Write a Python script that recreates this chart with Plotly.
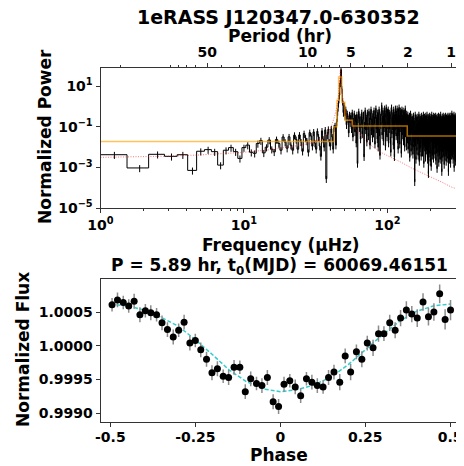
import numpy as np
import plotly.graph_objects as go

# the page body keeps its default 8px margin, so the figure is 8px smaller and
# every pixel position below is given in window coordinates and shifted by OFF
OFF = 8
W, H = 464 - OFF, 466 - OFF
FREQ_STEP = 0.625          # periodogram spacing in uHz
HR_PER_UHZ = 1e6 / 3600.0  # period (hr) = HR_PER_UHZ / frequency (uHz)

# ---- top panel: periodogram, log10 of normalized power, one value per frequency bin ----
logp_low = [-2.4, -2.37, -3.02, -2.35, -2.45, -2.37, -3.14, -2.2, -2.12, -2.22,
            -2.88, -2.15, -2.02, -2.22, -2.55, -2.02, -1.9, -2.25, -2.3, -1.82,
            -1.68, -2.28, -2.0, -1.65, -2.1]
logp_rise = [-2.23, -1.62, -1.82, -2.15, -1.5, -1.75, -2.05, -1.49, -1.9, -2.15,
             -1.41, -1.62, -2.1, -1.4, -1.74, -2.2, -1.33, -1.55, -1.7, -2.25,
             -1.28, -1.45, -1.95, -1.25, -1.8, -2.1, -1.22, -1.5, -1.95, -2.45,
             -1.2, -1.6, -2.0, -1.15, -3.55, -1.4, -1.12, -1.75, -1.95, -1.1,
             -1.5, -2.1, -1.05]
logp_peak = [-0.95, -1.9, -0.75, -0.25, 0.15, 0.55, 1.15, 1.8, 0.85, 0.25,
             -0.3, 0.05, -0.45, -0.15, -0.9, -0.35, -0.6, -1.3, -0.4, -0.8]
logp_mid = [-0.45, -1.1, -0.3, -1.5, -0.7, -0.35, -1.25, -0.55, -1.8, -0.4,
            -2.8, -0.6, -0.25, -1.05, -0.5, -1.6, -0.85, -0.3, -1.35, -0.65,
            -0.4, -2.47, -0.9, -0.2, -1.15, -0.55, -1.75, -0.3, -0.95, -1.45,
            -0.25, -0.7, -1.9, -0.45, -0.15, -1.2, -0.6, -1.55, -0.35,
            -1.3, -0.2, -0.65, -1.85, -0.4, -0.1, -1.1, -0.55, -1.6, -0.3,
            -2.0, -0.45, -0.15, -1.25, -2.4, -0.5, -0.9, -0.25, 0.05,
            -1.4, -0.6, -0.2, -1.7, -0.45, -1.05, -0.1, -0.75, -1.95, -0.35,
            -0.05, -1.2, -1.5, -0.25, -0.9, -0.15, -1.8, -0.5, -0.3,
            -1.1, -0.4, -1.65, -2.25, -0.2, -0.05, -1.35, -0.55, -0.95, -0.3,
            -1.9, -0.15, -0.8, -2.47, -0.4, -1.15, -0.1, -0.65, -1.45,
            -0.35, -0.9, -0.1, -1.6, -0.5, -2.1, -0.25, -1.25, -0.05, -0.6,
            -1.85, -0.4, -0.2, -1.05, -0.7, -2.3, -0.3, -0.15, -1.4,
            -0.55, -0.9, -0.2, -1.7, -0.45, -1.1, -0.3, -2.0, -0.65, -0.1,
            -1.3, -0.5, -0.85, -1.95, -0.35, -0.6]
logp_high = [-0.75, -1.6, -0.4, -2.1, -1.05, -0.55, -1.85, -1.3, -0.45, -2.5,
             -0.9, -1.45, -0.35, -1.7, -2.2, -0.8, -1.15, -0.5, -1.95, -1.25,
             -0.6, -2.35, -1.0, -0.45, -1.55, -2.0, -0.7, -1.3, -3.7, -0.85,
             -0.4, -1.75, -1.1, -2.6, -0.55, -1.4, -0.95, -2.15, -0.5, -1.65,
             -1.2, -0.65, -2.4, -0.9, -1.5, -0.4, -1.85, -2.7, -0.75, -1.05,
             -0.5, -2.05, -1.35, -0.6, -1.8, -2.45, -0.85, -0.45, -1.6, -1.15,
             -0.55, -2.25, -1.0, -0.7, -1.9, -0.4, -1.45, -2.8, -0.8, -1.25,
             -0.5, -2.0, -1.7, -0.65, -1.1, -2.5, -0.45, -1.55, -0.9, -2.15,
             -0.6, -1.35, -0.4, -1.95, -1.05, -2.6, -0.75, -1.5, -0.5, -3.3,
             -1.2, -0.55, -1.8, -2.3, -0.85, -0.45, -1.6, -1.0, -2.7, -0.7,
             -1.4, -0.5, -2.1, -2.95, -0.9, -1.25, -0.4, -1.75, -0.65, -2.4,
             -1.1, -0.55, -1.9, -1.45, -0.8, -2.55, -0.45, -1.3, -2.05, -0.7,
             -1.6, -0.5, -1.0, -2.35, -0.6, -1.85, -1.2, -0.45, -2.65, -0.95,
             -1.5, -0.55, -2.1, -0.8, -1.35, -3.05, -0.5, -1.7, -1.05, -0.65,
             -2.25, -0.9, -1.45, -0.45, -1.95, -2.75, -0.7, -1.2, -0.5, -1.65,
             -2.4, -0.85, -1.1, -0.55, -2.0, -1.5, -0.4, -2.6, -0.95, -1.3,
             -0.6, -1.8, -2.3, -3.2, -0.75, -1.25, -0.5, -2.05, -1.55, -0.65,
             -2.5, -1.0, -0.45, -1.7, -2.2, -0.8, -1.4, -0.55, -2.85, -1.15,
             -0.7, -1.9, -0.5, -1.35, -2.45, -0.85, -1.6, -0.45, -2.1, -1.05,
             -0.6, -2.7, -1.25, -0.55, -1.8, -2.35, -0.9, -0.5, -1.5, -2.0,
             -0.65, -1.15, -2.55, -0.45, -1.7, -0.8, -3.2, -1.35, -0.55, -2.15,
             -1.0, -0.5, -1.85, -2.6, -0.75, -1.4, -0.45, -2.3, -1.1, -0.6,
             -1.95, -2.8, -0.7, -1.25, -0.45, -2.05, -1.55, -0.6, -2.4, -0.9,
             -0.35, -1.7, -1.2,
             -0.5, -1.65, -2.3, -0.8, -1.1, -0.45, -2.6, -1.4, -0.7, -1.9,
             -0.55, -2.15, -1.25, -0.4, -3.0, -1.0, -0.6, -1.75, -2.45, -0.85,
             -1.3, -0.5, -2.0, -1.55, -0.65, -2.7, -1.15, -0.45, -1.8, -0.95,
             -2.35, -0.6, -1.45, -2.05, -0.75, -1.2]

# binned power (orange steps): bin edges in uHz and mean power per bin
bin_edges = [1.0, 42.5, 44.5, 45.7, 48.1, 50.5, 57.0, 137.5, 305.0]
bin_power = [0.019, 0.1, 2.0, 28.0, 1.6, 0.21, 0.11, 0.035]

# fitted model (red dotted), log10 power
model_freq = [1, 2, 3, 5, 7, 10, 15, 20, 25, 30, 35, 38, 41, 43, 44.5, 45.5, 46.2,
              46.7, 47.0, 47.3, 47.8, 48.5, 49.5, 51, 53, 56, 60, 65, 70, 80, 90,
              100, 120, 150, 200, 240, 278, 305]
model_logp = [-2.5, -2.47, -2.44, -2.38, -2.32, -2.25, -2.13, -2.0, -1.9, -1.78,
              -1.6, -1.4, -0.9, -0.45, 0.0, 0.5, 1.1, 1.6, 1.8, 1.6, 1.1, 0.55,
              0.1, -0.3, -0.55, -0.82, -1.12, -1.42, -1.67, -2.0, -2.25, -2.42,
              -2.68, -3.05, -3.45, -3.72, -3.95, -4.05]

period_ticks = [50, 10, 5, 2, 1]
period_minor = [200, 90, 80, 70, 60, 40, 30, 20, 9, 8, 7, 6, 4, 3]
freq_minor = [2, 3, 4, 5, 6, 7, 8, 9, 20, 30, 40, 50, 60, 70, 80, 90, 200]

# ---- bottom panel: folded light curve ----
phase = [-0.495, -0.479, -0.462, -0.446, -0.430, -0.413, -0.397, -0.381, -0.364, -0.348,
         -0.332, -0.315, -0.299, -0.283, -0.266, -0.250, -0.234, -0.217, -0.201, -0.185,
         -0.168, -0.152, -0.136, -0.119, -0.103, -0.087, -0.070, -0.054, -0.038, -0.021,
         -0.005, 0.011, 0.028, 0.044, 0.060, 0.077, 0.093, 0.109, 0.126, 0.142,
         0.158, 0.175, 0.191, 0.207, 0.224, 0.240, 0.256, 0.273, 0.289, 0.305,
         0.322, 0.338, 0.354, 0.371, 0.387, 0.403, 0.420, 0.436, 0.452, 0.469,
         0.485, 0.501]
flux = [1.00061, 1.00068, 1.00064, 1.00059, 1.00066, 1.00046, 1.00052, 1.00049, 1.00046, 1.00034,
        1.00024, 1.00013, 1.00023, 1.00035, 1.00004, 1.00008, 0.99994, 0.99980, 0.99960, 0.99966,
        0.99955, 0.99953, 0.99968, 0.99968, 0.99932, 0.99951, 0.99944, 0.99941, 0.99953, 0.99917,
        0.99910, 0.99943, 0.99948, 0.99939, 0.99926, 0.99951, 0.99946, 0.99941, 0.99939, 0.99953,
        0.99961, 0.99946, 0.99985, 0.99961, 0.99991, 0.99980, 1.00004, 0.99997, 1.00018, 1.00018,
        1.00034, 1.00023, 1.00041, 1.00053, 1.00047, 1.00041, 1.00065, 1.00043, 1.00050, 1.00077,
        1.00039, 1.00053]
flux_err = [0.00010, 0.00011, 0.00010, 0.00010, 0.00011, 0.00011, 0.00010, 0.00011, 0.00010, 0.00011,
            0.00011, 0.00011, 0.00010, 0.00011, 0.00011, 0.00010, 0.00011, 0.00011, 0.00011, 0.00011,
            0.00010, 0.00011, 0.00011, 0.00010, 0.00011, 0.00011, 0.00010, 0.00011, 0.00011, 0.00011,
            0.00011, 0.00011, 0.00010, 0.00011, 0.00011, 0.00010, 0.00011, 0.00011, 0.00010, 0.00011,
            0.00011, 0.00012, 0.00011, 0.00012, 0.00011, 0.00012, 0.00011, 0.00012, 0.00012, 0.00011,
            0.00012, 0.00012, 0.00012, 0.00013, 0.00012, 0.00013, 0.00013, 0.00013, 0.00013, 0.00014,
            0.00015, 0.00015]
model_phase = [-0.5, -0.45, -0.4, -0.35, -0.3, -0.25, -0.2, -0.15, -0.1, -0.05, 0.0,
               0.05, 0.1, 0.15, 0.2, 0.25, 0.3, 0.35, 0.4, 0.45, 0.5]
model_flux = [1.00062, 1.00059, 1.00053, 1.00042, 1.00029, 1.00009, 0.99987, 0.99964, 0.99947,
              0.99936, 0.99932, 0.99935, 0.99942, 0.99954, 0.99972, 0.99994, 1.00016, 1.00036,
              1.00051, 1.00059, 1.00062]

TICKFONT = dict(family='DejaVu Sans', size=14, color='black', weight='bold')
LABELFONT = dict(family='DejaVu Sans', size=17, color='black', weight='bold')
AX = '#333333'


def px(x):
    return (x - OFF) / W


def py(y):
    return 1 - (y - OFF) / H


def axis_style(**kw):
    d = dict(showline=True, linecolor=AX, linewidth=1, mirror=True, ticks='outside',
             ticklen=4, tickwidth=1, tickcolor=AX, showgrid=False, zeroline=False,
             tickfont=TICKFONT, automargin=False)
    d.update(kw)
    return d


def make_figure():
    logp = logp_low + logp_rise + logp_peak + logp_mid + logp_high
    freq = FREQ_STEP * np.arange(1, len(logp) + 1)
    power = 10 ** np.array(logp)

    fig = go.Figure()
    fig.add_trace(go.Scatter(
        x=freq, y=power, mode='lines', xaxis='x', yaxis='y',
        line=dict(color='black', width=1, shape='hvh'),
        error_y=dict(type='percent', value=38, color='black', thickness=1, width=0),
        hoverinfo='skip'))
    fig.add_trace(go.Scatter(
        x=bin_edges, y=bin_power + [bin_power[-1]], mode='lines', xaxis='x', yaxis='y',
        line=dict(color='rgba(255,165,0,0.65)', width=1.5, shape='hv')))
    fig.add_trace(go.Scatter(
        x=model_freq, y=10 ** np.array(model_logp), mode='lines', xaxis='x', yaxis='y',
        line=dict(color='rgba(255,0,0,0.55)', width=1, dash='1px,1.5px')))
    # carrier so the period axis is drawn
    fig.add_trace(go.Scatter(x=[1, 300], y=[1e-5, 1e-5], mode='markers', xaxis='x3', yaxis='y',
                             marker=dict(opacity=0), hoverinfo='skip'))

    fig.add_trace(go.Scatter(
        x=model_phase, y=model_flux, mode='lines', xaxis='x2', yaxis='y2',
        line=dict(color='rgba(0,191,191,0.8)', width=1.5, dash='4px,2px')))
    fig.add_trace(go.Scatter(
        x=phase, y=flux, mode='markers', xaxis='x2', yaxis='y2',
        marker=dict(color='black', size=7),
        error_y=dict(type='data', array=flux_err, color='#8c8c8c', thickness=1.5, width=0)))

    xdom = [px(100.5), px(457)]
    xr = [0, 2.485]
    fig.update_layout(
        width=W, height=H, margin=dict(l=0, r=0, t=0, b=0),
        plot_bgcolor='white', paper_bgcolor='white', showlegend=False,
        font=dict(family='DejaVu Sans', color='black'),
        xaxis=axis_style(domain=xdom, anchor='y', type='log', range=xr,
                         tickvals=[1, 10, 100],
                         ticktext=['10<sup>0</sup>', '10<sup>1</sup>', '10<sup>2</sup>'],
                         minor=dict(tickvals=freq_minor, ticks='outside', ticklen=2,
                                    tickcolor=AX)),
        xaxis3=dict(overlaying='x', anchor='y', side='top', type='log', range=xr,
                    tickvals=[HR_PER_UHZ / p for p in period_ticks],
                    ticktext=[str(p) for p in period_ticks],
                    ticks='outside', ticklen=4, tickwidth=1, tickcolor=AX,
                    showgrid=False, zeroline=False, showline=False, tickfont=TICKFONT,
                    automargin=False,
                    minor=dict(tickvals=[HR_PER_UHZ / p for p in period_minor],
                               ticks='outside', ticklen=2, tickcolor=AX)),
        yaxis=axis_style(domain=[py(208.3), py(67.7)], anchor='x', type='log',
                         range=[-5.0, 1.9], tickvals=[1e-5, 1e-3, 1e-1, 10],
                         ticktext=['10<sup>\u22125</sup>', '10<sup>\u22123</sup>',
                                   '10<sup>\u22121</sup>', '10<sup>1</sup>']),
        xaxis2=axis_style(domain=xdom, anchor='y2', range=[-0.529, 0.52],
                          tickvals=[-0.5, -0.25, 0, 0.25, 0.5],
                          ticktext=['-0.5', '-0.25', '0', '0.25', '0.5'],
                          ticklabelstandoff=-2),
        yaxis2=axis_style(domain=[py(422), py(279)], anchor='x2',
                          range=[0.99887, 1.00099],
                          tickvals=[0.999, 0.9995, 1.0, 1.0005], tickformat='.4f'),
    )

    labels = [
        ('1eRASS J120347.0-630352', 278.7, 17, 0, 19),
        ('Period (hr)', 280, 36, 0, 17),
        ('Frequency (\u00b5Hz)', 281, 245, 0, 17),
        ('P = 5.89 hr, t<sub>0</sub>(MJD) = 60069.46151', 279, 266, 0, 17),
        ('Phase', 279, 455, 0, 17),
        ('Normalized Power', 45, 137, -90, 17),
        ('Normalized Flux', 23, 350, -90, 17),
    ]
    for text, x, y, ang, size in labels:
        fig.add_annotation(text=text, x=px(x), y=py(y), xref='paper', yref='paper',
                           showarrow=False, textangle=ang, xanchor='center', yanchor='middle',
                           font=dict(LABELFONT, size=size))
    return fig


if __name__ == '__main__':
    fig = make_figure()
    fig.write_html('out.html')
